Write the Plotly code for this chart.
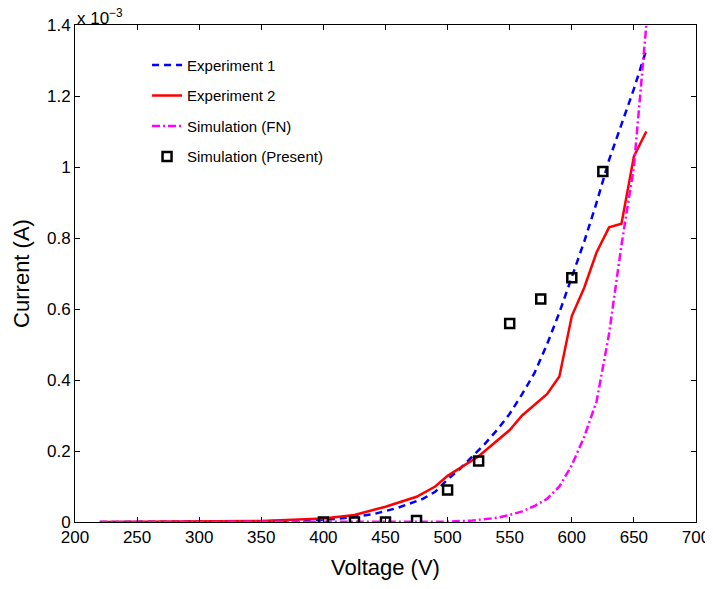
import plotly.graph_objects as go

# Voltage (V) and current (x 1e-3 A)
exp1_v = [220, 250, 300, 350, 380, 400, 420, 440, 460, 480, 490, 500, 510, 520, 530,
          540, 550, 560, 570, 580, 590, 600, 610, 620, 630, 640, 650, 660]
exp1_i = [0.0, 0.0, 0.0005, 0.002, 0.004, 0.006, 0.012, 0.022, 0.04, 0.065, 0.085, 0.12,
          0.15, 0.185, 0.22, 0.26, 0.305, 0.36, 0.42, 0.50, 0.59, 0.69, 0.79, 0.90,
          1.02, 1.12, 1.22, 1.33]

exp2_v = [220, 300, 350, 400, 425, 450, 475, 490, 500, 525, 550, 560, 570, 580, 590,
          600, 610, 620, 630, 640, 650, 660]
exp2_i = [0.0, 0.001, 0.003, 0.010, 0.020, 0.043, 0.071, 0.10, 0.13, 0.185, 0.259,
          0.30, 0.33, 0.36, 0.41, 0.58, 0.66, 0.76, 0.83, 0.84, 1.03, 1.10]

fn_v = [220, 300, 400, 450, 500, 520, 540, 550, 560, 570, 580, 590, 600, 610, 620,
        630, 640, 650, 660]
fn_i = [0.0, 0.0, 0.0, 0.0, 0.001, 0.004, 0.012, 0.02, 0.03, 0.045, 0.065, 0.10,
        0.16, 0.24, 0.34, 0.53, 0.78, 1.0, 1.40]

sim_v = [400, 425, 450, 475, 500, 525, 550, 575, 600, 625]
sim_i = [0.0, 0.0, 0.0, 0.004, 0.09, 0.172, 0.559, 0.628, 0.688, 0.987]

x_ticks = [200, 250, 300, 350, 400, 450, 500, 550, 600, 650, 700]
y_ticks = [0, 0.2, 0.4, 0.6, 0.8, 1.0, 1.2, 1.4]
y_tick_labels = ["0", "0.2", "0.4", "0.6", "0.8", "1", "1.2", "1.4"]

FONT = "Liberation Sans, Arial, Helvetica, sans-serif"

fig = go.Figure()
fig.add_trace(go.Scatter(x=exp1_v, y=exp1_i, mode="lines", name="Experiment 1",
                         legendgroup="a",
                         line=dict(color="#0000ff", width=2.5, dash="7px,5px")))
fig.add_trace(go.Scatter(x=exp2_v, y=exp2_i, mode="lines", name="Experiment 2",
                         legendgroup="b",
                         line=dict(color="#ff0000", width=2.5)))
fig.add_trace(go.Scatter(x=fn_v, y=fn_i, mode="lines", name="Simulation (FN)",
                         legendgroup="c",
                         line=dict(color="#ff00ff", width=2.5, dash="8px,3px,2px,3px")))
fig.add_trace(go.Scatter(x=sim_v, y=sim_i, mode="markers", name="Simulation (Present)",
                         legendgroup="d",
                         marker=dict(symbol="square-open", size=9, color="black",
                                     line=dict(color="black", width=2.5))))

axis_common = dict(showline=True, linecolor="black", linewidth=1, mirror="ticks",
                   ticks="inside", ticklen=5, tickcolor="black", showgrid=False,
                   zeroline=False, ticklabeloverflow="allow", automargin=False,
                   tickfont=dict(family=FONT, size=17, color="black"))

fig.update_layout(
    width=697, height=573,
    margin=dict(l=67, r=9, t=17, b=59),
    plot_bgcolor="white", paper_bgcolor="white",
    font=dict(family=FONT, color="black"),
    xaxis=dict(range=[200, 700], tickvals=x_ticks,
               title=dict(text="Voltage (V)", font=dict(family=FONT, size=22), standoff=13),
               **axis_common),
    yaxis=dict(range=[0, 1.4], tickvals=y_ticks, ticktext=y_tick_labels,
               title=dict(text="Current (A)", font=dict(family=FONT, size=22), standoff=11),
               **axis_common),
    legend=dict(x=0.116, y=0.952, xanchor="left", yanchor="top",
                bgcolor="rgba(0,0,0,0)", borderwidth=0,
                font=dict(family=FONT, size=15, color="black"),
                tracegroupgap=8, traceorder="grouped"),
    showlegend=True,
)

fig.add_annotation(xref="paper", yref="paper", x=0, y=1, xanchor="left", yanchor="bottom",
                   text="x 10<sup>−3</sup>", showarrow=False,
                   font=dict(family=FONT, size=17, color="black"), yshift=-5)

fig.write_html("out.html")
